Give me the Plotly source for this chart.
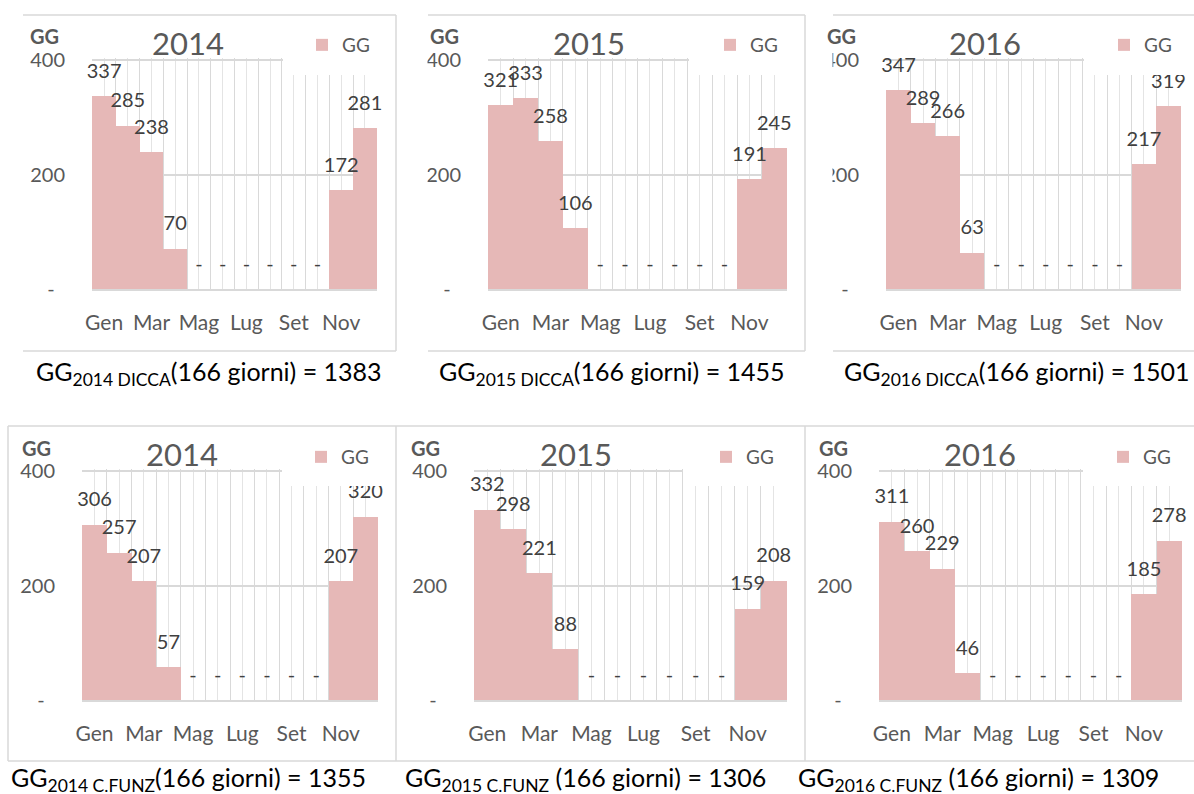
import plotly.graph_objects as go

W, H = 1194, 794

# ---- data -------------------------------------------------------------
months = ["Gen", "Feb", "Mar", "Apr", "Mag", "Giu",
          "Lug", "Ago", "Set", "Ott", "Nov", "Dic"]
years = ["2014", "2015", "2016"]

gg_dicca_2014 = [337, 285, 238, 70, 0, 0, 0, 0, 0, 0, 172, 281]
gg_dicca_2015 = [321, 333, 258, 106, 0, 0, 0, 0, 0, 0, 191, 245]
gg_dicca_2016 = [347, 289, 266, 63, 0, 0, 0, 0, 0, 0, 217, 319]
gg_cfunz_2014 = [306, 257, 207, 57, 0, 0, 0, 0, 0, 0, 207, 320]
gg_cfunz_2015 = [332, 298, 221, 88, 0, 0, 0, 0, 0, 0, 159, 208]
gg_cfunz_2016 = [311, 260, 229, 46, 0, 0, 0, 0, 0, 0, 185, 278]

totals_dicca = [1383, 1455, 1501]
totals_cfunz = [1355, 1306, 1309]
heating_days = 166

y_tickvals = [0, 200, 400]
y_ticktext = ["-\u00a0\u00a0", "200", "400"]
x_ticktext = [m if i % 2 == 0 else "" for i, m in enumerate(months)]

BAR = "#E6B8B7"
GRID = "#D9D9D9"
GRID_MINOR = "#E4E4E4"
AXT = "#595959"
LBL = "#404040"
FONT = "Lato"


def fx(px):
    return px / W


def fy(py):
    return 1 - py / H


# panel geometry in pixels: plot box, title centre, axis-title centre, legend
panels = [
    dict(series=gg_dicca_2014, year=years[0], x0=92, x1=377, yb=289, title=(188, 43), gg=(45, 36), leg=(326, 45), box=(283, 396, 16, 75)),
    dict(series=gg_dicca_2015, year=years[1], x0=488, x1=787, yb=289, title=(589, 43), gg=(444, 36), leg=(734, 45), box=(689, 805, 16, 75)),
    dict(series=gg_dicca_2016, year=years[2], x0=886, x1=1181, yb=289, title=(985, 43), gg=(841, 36), leg=(1128, 45), box=(1084, 1194, 16, 75)),
    dict(series=gg_cfunz_2014, year=years[0], x0=82, x1=378, yb=700, title=(182, 454), gg=(36, 448), leg=(325, 457), box=(282, 396, 427, 486)),
    dict(series=gg_cfunz_2015, year=years[1], x0=474, x1=787, yb=700, title=(576, 454), gg=(425, 448), leg=(730, 457), box=(683, 805, 427, 486)),
    dict(series=gg_cfunz_2016, year=years[2], x0=879, x1=1182, yb=700, title=(980, 454), gg=(833, 448), leg=(1127, 457), box=(1083, 1194, 427, 486)),
]

Y_MAX = 403          # small headroom so the 400 gridline stays inside the range
PX_PER_UNIT = 229 / 400

fig = go.Figure()
layout = {}
annotations = []
shapes = []

for i, p in enumerate(panels, start=1):
    xa = "x" if i == 1 else f"x{i}"
    ya = "y" if i == 1 else f"y{i}"
    leg = "legend" if i == 1 else f"legend{i}"
    xs = list(range(len(months)))
    vals = p["series"]

    fig.add_trace(go.Bar(
        x=xs, y=vals, width=1, name="GG", marker=dict(color=BAR, line=dict(width=0)),
        xaxis=xa, yaxis=ya, legend=leg, hoverinfo="skip", showlegend=True,
    ))
    fig.add_trace(go.Scatter(
        x=xs, y=vals, mode="markers+text",
        text=["-" if v == 0 else str(v) for v in vals],
        textposition="top center",
        textfont=dict(family=FONT, size=20, color=LBL),
        marker=dict(size=20, color="rgba(0,0,0,0)"),
        xaxis=xa, yaxis=ya, hoverinfo="skip", showlegend=False, cliponaxis=False,
    ))

    ytop = p["yb"] - Y_MAX * PX_PER_UNIT
    layout[f"xaxis{'' if i == 1 else i}"] = dict(
        domain=[fx(p["x0"]), fx(p["x1"])], anchor=ya, range=[-0.51, 11.51],
        tickmode="array", tickvals=xs, ticktext=x_ticktext,
        showgrid=True, gridcolor=GRID_MINOR, gridwidth=1,
        minor=dict(tickmode="linear", tick0=-0.5, dtick=1, showgrid=True,
                   gridcolor=GRID, gridwidth=1, ticks=""),
        showline=True, linecolor=GRID, linewidth=1.5, zeroline=False, ticks="",
        tickfont=dict(family=FONT, size=21, color=AXT), ticklabelstandoff=14,
        automargin=False, fixedrange=True,
    )
    layout[f"yaxis{'' if i == 1 else i}"] = dict(
        domain=[fy(p["yb"]), fy(ytop)], anchor=xa, range=[0, Y_MAX],
        tickmode="array", tickvals=y_tickvals, ticktext=y_ticktext,
        showgrid=True, gridcolor=GRID, gridwidth=1.5, zeroline=False, ticks="",
        tickfont=dict(family=FONT, size=20, color=AXT), ticklabelstandoff=26,
        automargin=False, fixedrange=True,
    )
    layout[leg] = dict(
        x=fx(p["leg"][0] - 24), y=fy(p["leg"][1]), xanchor="left", yanchor="middle",
        bgcolor="rgba(0,0,0,0)", borderwidth=0,
        font=dict(family=FONT, size=19, color=AXT),
        itemclick=False, itemdoubleclick=False,
    )

    annotations.append(dict(
        text=p["year"], x=fx(p["title"][0]), y=fy(p["title"][1]),
        xref="paper", yref="paper", xanchor="center", yanchor="middle",
        showarrow=False, font=dict(family=FONT, size=31, color=AXT),
    ))
    annotations.append(dict(
        text="<b>GG</b>", x=fx(p["gg"][0]), y=fy(p["gg"][1]),
        xref="paper", yref="paper", xanchor="center", yanchor="middle",
        showarrow=False, font=dict(family=FONT, size=20, color=AXT),
    ))

    # white legend panel laid over the top-right corner of the plot area
    bx0, bx1, by0, by1 = p["box"]
    shapes.append(dict(
        type="rect", xref="paper", yref="paper", layer="above",
        x0=fx(bx0), x1=fx(bx1), y0=fy(by1), y1=fy(by0),
        fillcolor="white", line=dict(width=0),
    ))

# captions under each chart
captions = [
    (f"GG<sub>{years[0]} DICCA</sub>({heating_days} giorni) = {totals_dicca[0]}", 209, 373),
    (f"GG<sub>{years[1]} DICCA</sub>({heating_days} giorni) = {totals_dicca[1]}", 612, 373),
    (f"GG<sub>{years[2]} DICCA</sub>({heating_days} giorni) = {totals_dicca[2]}", 1017, 373),
    (f"GG<sub>{years[0]} C.FUNZ</sub>({heating_days} giorni) = {totals_cfunz[0]}", 188, 779),
    (f"GG<sub>{years[1]} C.FUNZ</sub> ({heating_days} giorni) = {totals_cfunz[1]}", 585, 779),
    (f"GG<sub>{years[2]} C.FUNZ</sub> ({heating_days} giorni) = {totals_cfunz[2]}", 978, 779),
]
for txt, cx, cy in captions:
    annotations.append(dict(
        text=txt, x=fx(cx), y=fy(cy), xref="paper", yref="paper",
        xanchor="center", yanchor="middle", showarrow=False,
        font=dict(family=FONT, size=25, color="#000000"),
    ))

# white strips where neighbouring chart frames overlap
for sx0, sx1 in [(397.5, 427.5), (806.5, 832.5)]:
    shapes.append(dict(
        type="rect", xref="paper", yref="paper", layer="above",
        x0=fx(sx0), x1=fx(sx1), y0=fy(390), y1=fy(0),
        fillcolor="white", line=dict(width=0),
    ))

# chart frames
frame_segments = [
    (23, 15, 396, 15), (396, 15, 396, 351), (23, 351, 396, 351),
    (428, 15, 805, 15), (805, 15, 805, 351), (428, 351, 805, 351),
    (833, 15, 1194, 15), (833, 351, 1194, 351),
    (8, 426, 1194, 426), (8, 426, 8, 761), (396, 426, 396, 761),
    (805, 426, 805, 761), (8, 761, 1194, 761),
]
for x0, y0, x1, y1 in frame_segments:
    shapes.append(dict(
        type="line", xref="paper", yref="paper", layer="above",
        x0=fx(x0), y0=fy(y0), x1=fx(x1), y1=fy(y1),
        line=dict(color=GRID, width=1.5),
    ))

fig.update_layout(
    template="none",
    width=W, height=H, margin=dict(l=0, r=0, t=0, b=0, pad=0, autoexpand=False),
    paper_bgcolor="white", plot_bgcolor="white",
    font=dict(family=FONT, color=AXT),
    annotations=annotations, shapes=shapes, bargap=0,
    **layout,
)

fig.write_html("out.html", config={"displayModeBar": False})
